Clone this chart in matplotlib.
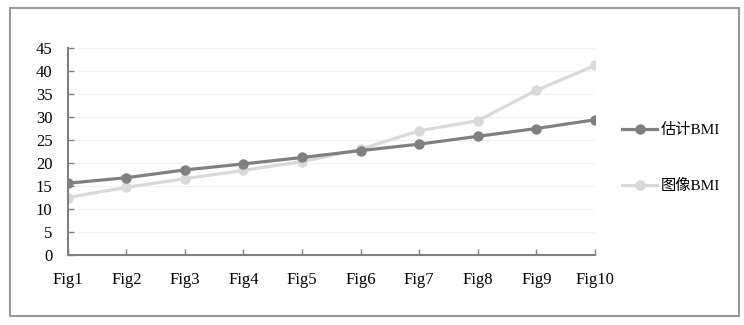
import matplotlib
matplotlib.use("Agg")
import matplotlib.pyplot as plt
from matplotlib.patches import Rectangle

categories = ["Fig1", "Fig2", "Fig3", "Fig4", "Fig5", "Fig6", "Fig7", "Fig8", "Fig9", "Fig10"]
est_bmi = [15.6, 16.8, 18.5, 19.8, 21.2, 22.7, 24.1, 25.8, 27.5, 29.4]
img_bmi = [12.5, 14.7, 16.6, 18.4, 20.3, 23.0, 27.0, 29.2, 35.8, 41.2]
yticks = [0, 5, 10, 15, 20, 25, 30, 35, 40, 45]
labels = ["估计BMI", "图像BMI"]

fam = ["Liberation Serif", "Noto Sans CJK SC", "DejaVu Sans"]
plt.rcParams["font.family"] = fam

W, H = 744, 325
fig = plt.figure(figsize=(W / 100, H / 100), dpi=100)
ax = fig.add_axes([67.7 / W, 1 - 255 / H, (595 - 67.7) / W, (255 - 48) / H])

x = list(range(len(categories)))
ax.plot(x, est_bmi, color="#808080", lw=2.3, marker="o", ms=6.5, label=labels[0], zorder=3)
ax.plot(x, img_bmi, color="#d9d9d9", lw=2.3, marker="o", ms=6.5, label=labels[1], zorder=2)

ax.set_xlim(0, len(categories) - 1)
ax.set_ylim(0, 45)
ax.set_yticks(yticks)
ax.set_yticklabels([str(v) for v in yticks])
ax.set_xticks(x)
ax.set_xticklabels(categories)
ax.grid(axis="y", color="#f2f2f2", lw=0.8, zorder=0)
ax.set_axisbelow(True)
for s in ["top", "right"]:
    ax.spines[s].set_visible(False)
for s in ["left", "bottom"]:
    ax.spines[s].set_color("#808080")
    ax.spines[s].set_linewidth(1.5)
ax.tick_params(axis="both", direction="in", length=4, width=1, color="#808080",
               labelsize=12, labelcolor="#000000")
ax.tick_params(axis="y", pad=11)
ax.tick_params(axis="x", pad=12)

leg = ax.legend(loc="center left", bbox_to_anchor=(622 / W, 1 - 158 / H),
                bbox_transform=fig.transFigure, frameon=False, fontsize=11,
                labelspacing=2.75, handlelength=2.3, handletextpad=0.25,
                borderaxespad=0, borderpad=0)
for line in leg.get_lines():
    line.set_markersize(6.5)

fig.patches.append(Rectangle((10 / W, 1 - 316 / H), (739 - 10) / W, (316 - 8) / H,
                             transform=fig.transFigure, fill=False,
                             edgecolor="#999999", lw=1.5))

fig.savefig("out.png", dpi=100, facecolor="white")
